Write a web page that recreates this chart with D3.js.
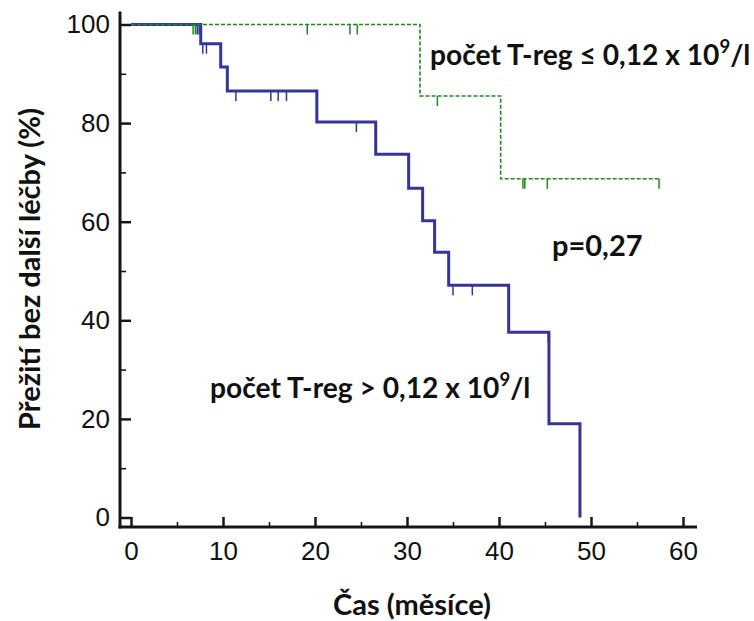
<!DOCTYPE html>
<html>
<head>
<meta charset="utf-8">
<script src="https://cdn.jsdelivr.net/npm/d3@7"></script>
<style>
  html, body { margin: 0; padding: 0; background: #fff; }
  svg { display: block; }
</style>
</head>
<body>
<svg id="chart" width="754" height="621"></svg>
<script>
// ---- data ----
const xTicks = [0, 10, 20, 30, 40, 50, 60];
const xMinorTicks = [5, 15, 25, 35, 45, 55];
const yTicks = [0, 20, 40, 60, 80, 100];
const yMinorTicks = [10, 30, 50, 70, 90];

// high T-reg group (solid blue)
const blueTimes = [0, 7.58, 9.75, 10.47, 20.2, 26.6, 30.18, 31.7, 33.0, 34.53, 41.05, 45.43, 48.8];
const blueSurv  = [100, 96.1, 91.4, 86.5, 80.2, 73.7, 66.8, 60.2, 53.8, 47.1, 37.6, 19.0, 0];
const blueCensor = [7.2, 7.4, 7.8, 8.2, 11.4, 15.2, 16.0, 16.9, 24.5, 35.0, 37.1, 45.35];

// low T-reg group (dashed green)
const greenTimes = [0, 31.41, 40.18, 57.4];
const greenSurv  = [100, 85.5, 68.7, 68.7];
const greenCensor = [6.75, 7.0, 19.16, 23.8, 24.6, 33.3, 42.6, 42.8, 45.25, 57.4];

const labelLow = "počet T-reg ≤ 0,12 x 10";
const labelHigh = "počet T-reg > 0,12 x 10";
const labelSup = "9";
const labelUnit = "/l";
const pText = "p=0,27";
const xTitle = "Čas (měsíce)";
const yTitle = "Přežití bez další léčby (%)";

// ---- drawing ----
const svg = d3.select("#chart");
const x = d3.scaleLinear().domain([0, 60]).range([131, 683]);
const y = d3.scaleLinear().domain([0, 100]).range([517.5, 24.5]);
const axisY0 = 527;     // x-axis baseline (offset below y=0)
const axisX0 = 120;     // y-axis position
const tickFont = "'Liberation Sans', Arial, sans-serif";
const textFont = "Lato, 'Open Sans', sans-serif";
const axisColor = "#161616";

// axes
const gx = svg.append("g").attr("transform", `translate(0,${axisY0})`);
gx.call(d3.axisBottom(x).tickValues(xTicks).tickSize(-10).tickPadding(15).tickFormat(d3.format("d")));
const gxm = svg.append("g").attr("transform", `translate(0,${axisY0})`);
gxm.call(d3.axisBottom(x).tickValues(xMinorTicks).tickSize(-5).tickFormat(""));

const gy = svg.append("g").attr("transform", `translate(${axisX0},0)`);
gy.call(d3.axisLeft(y).tickValues(yTicks).tickSize(-11).tickPadding(10).tickFormat(d3.format("d")));
const gym = svg.append("g").attr("transform", `translate(${axisX0},0)`);
gym.call(d3.axisLeft(y).tickValues(yMinorTicks).tickSize(-6).tickFormat(""));

svg.selectAll(".domain").remove();
[gx, gy].forEach(g => g.selectAll(".tick line").attr("stroke", axisColor).attr("stroke-width", 2.5));
[gxm, gym].forEach(g => g.selectAll(".tick line").attr("stroke", axisColor).attr("stroke-width", 1.6));
[gx, gy].forEach(g => g.selectAll(".tick text")
  .attr("font-family", tickFont).attr("font-size", 26).attr("fill", "#111"));

// axis lines
svg.append("line")
  .attr("x1", axisX0).attr("x2", axisX0)
  .attr("y1", y.range()[1] - 13).attr("y2", axisY0 + 1.5)
  .attr("stroke", axisColor).attr("stroke-width", 3);
svg.append("line")
  .attr("x1", axisX0 - 1.5).attr("x2", x.range()[1] + 14)
  .attr("y1", axisY0).attr("y2", axisY0)
  .attr("stroke", axisColor).attr("stroke-width", 3);

// survival curves
function survAt(times, surv, t) {
  let s = surv[0];
  for (let i = 0; i < times.length; i++) if (times[i] <= t) s = surv[i];
  return s;
}
const line = d3.line().x(d => x(d[0])).y(d => y(d[1])).curve(d3.curveStepAfter);

const blueColor = "#34349a";
const greenColor = "#1d8c1d";

svg.append("path")
  .datum(d3.zip(blueTimes, blueSurv))
  .attr("d", line)
  .attr("fill", "none").attr("stroke", blueColor).attr("stroke-width", 3);
svg.append("g").selectAll("line")
  .data(blueCensor).join("line")
  .attr("x1", d => x(d)).attr("x2", d => x(d))
  .attr("y1", d => y(survAt(blueTimes, blueSurv, d)))
  .attr("y2", d => y(survAt(blueTimes, blueSurv, d)) + 10)
  .attr("stroke", blueColor).attr("stroke-width", 1.5);

svg.append("path")
  .datum(d3.zip(greenTimes, greenSurv))
  .attr("d", line)
  .attr("fill", "none").attr("stroke", greenColor).attr("stroke-width", 1.6)
  .attr("stroke-dasharray", "4,2");
svg.append("g").selectAll("line")
  .data(greenCensor).join("line")
  .attr("x1", d => x(d)).attr("x2", d => x(d))
  .attr("y1", d => y(survAt(greenTimes, greenSurv, d)))
  .attr("y2", d => y(survAt(greenTimes, greenSurv, d)) + 10)
  .attr("stroke", greenColor).attr("stroke-width", 1.5);

// labels
function legendText(tx, ty, main) {
  const t = svg.append("text")
    .attr("x", tx).attr("y", ty)
    .attr("font-family", textFont).attr("font-weight", "bold")
    .attr("font-size", 28.2).attr("fill", "#111");
  t.append("tspan").text(main);
  t.append("tspan").attr("font-size", 18.5).attr("dy", -12).text(labelSup);
  t.append("tspan").attr("dy", 12).text(labelUnit);
}
legendText(430, 65, labelLow);
legendText(210, 398, labelHigh);

svg.append("text")
  .attr("x", 552).attr("y", 256)
  .attr("font-family", textFont).attr("font-weight", "bold")
  .attr("font-size", 29).attr("fill", "#111")
  .text(pText);

svg.append("text")
  .attr("x", 412).attr("y", 615)
  .attr("text-anchor", "middle")
  .attr("font-family", textFont).attr("font-weight", "bold")
  .attr("font-size", 29).attr("fill", "#111")
  .text(xTitle);

svg.append("text")
  .attr("transform", `translate(40,269) rotate(-90)`)
  .attr("text-anchor", "middle")
  .attr("font-family", textFont).attr("font-weight", "bold")
  .attr("font-size", 29).attr("fill", "#111")
  .text(yTitle);
</script>
</body>
</html>
